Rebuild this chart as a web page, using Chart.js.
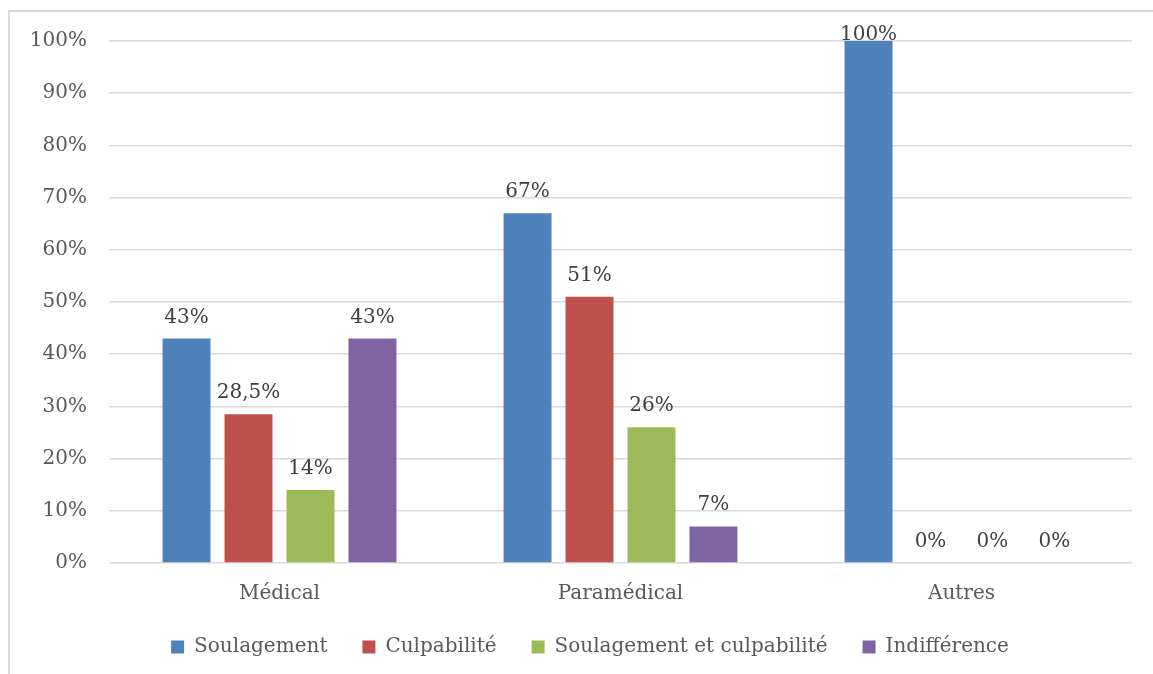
<!DOCTYPE html>
<html>
<head>
<meta charset="utf-8">
<script src="https://cdn.jsdelivr.net/npm/chart.js@4"></script>
<style>
  html, body { margin: 0; padding: 0; background: #ffffff; overflow: hidden; }
  #wrap { position: relative; width: 1153px; height: 674px; }
  #frame { position: absolute; left: 8px; top: 10px; width: 1300px; height: 800px;
           border-left: 2px solid #d9d9d9; border-top: 2px solid #d9d9d9; box-sizing: border-box; }
  canvas { position: absolute; left: 0; top: 0; }
</style>
</head>
<body>
<div id="wrap">
  <div id="frame"></div>
  <canvas id="c" width="1153" height="674"></canvas>
</div>
<script>
const categories = ['Médical', 'Paramédical', 'Autres'];
const seriesNames = ['Soulagement', 'Culpabilité', 'Soulagement et culpabilité', 'Indifférence'];
const soulagement = [43, 67, 100];
const culpabilite = [28.5, 51, 0];
const soulagementEtCulpabilite = [14, 26, 0];
const indifference = [43, 7, 0];
const yTicks = [0, 10, 20, 30, 40, 50, 60, 70, 80, 90, 100];
const colors = ['#4F81BD', '#C0504D', '#9BBB59', '#8064A2'];

const FONT = "'DejaVu Serif', serif";

const valueLabels = {
  id: 'valueLabels',
  afterDatasetsDraw(chart) {
    const ctx = chart.ctx;
    ctx.save();
    ctx.font = '20px ' + FONT;
    ctx.fillStyle = '#404040';
    ctx.textAlign = 'center';
    ctx.textBaseline = 'alphabetic';
    chart.data.datasets.forEach((ds, di) => {
      const meta = chart.getDatasetMeta(di);
      meta.data.forEach((bar, i) => {
        const v = ds.data[i];
        const txt = String(v).replace('.', ',') + '%';
        const y = Math.max(bar.y - 16, chart.chartArea.top - 1);
        ctx.fillText(txt, bar.x, y);
      });
    });
    ctx.restore();
  }
};

const legendShift = {
  id: 'legendShift',
  afterLayout(chart) {
    const l = chart.legend;
    if (l) { l.left += 19.5; l.right += 19.5; }
  }
};

const dataArrays = [soulagement, culpabilite, soulagementEtCulpabilite, indifference];

new Chart(document.getElementById('c'), {
  type: 'bar',
  data: {
    labels: categories,
    datasets: dataArrays.map((d, i) => ({
      label: seriesNames[i],
      data: d,
      backgroundColor: colors[i],
      borderWidth: 0,
      categoryPercentage: 0.727,
      barPercentage: 0.774
    }))
  },
  options: {
    responsive: false,
    animation: false,
    devicePixelRatio: 1,
    layout: { padding: { left: 9, right: 21, top: 41, bottom: 7 } },
    plugins: {
      tooltip: { enabled: false },
      legend: {
        position: 'bottom',
        labels: {
          boxWidth: 13,
          boxHeight: 13,
          padding: 35,
          color: '#595959',
          font: { family: FONT, size: 20 }
        }
      }
    },
    scales: {
      x: {
        grid: { display: false, drawTicks: false },
        border: { display: false },
        ticks: { color: '#595959', font: { family: FONT, size: 20 }, padding: 19 },
        afterFit(scale) { scale.height = 39; }
      },
      y: {
        min: 0,
        max: 100,
        afterBuildTicks(scale) { scale.ticks = yTicks.map(v => ({ value: v })); },
        grid: { color: '#d9d9d9', lineWidth: 1.5, drawTicks: false },
        border: { display: false },
        ticks: {
          color: '#595959',
          font: { family: FONT, size: 20 },
          padding: 22,
          callback: v => v + '%'
        },
        afterFit(scale) { scale.width = 100; }
      }
    }
  },
  plugins: [valueLabels, legendShift]
});
</script>
</body>
</html>
